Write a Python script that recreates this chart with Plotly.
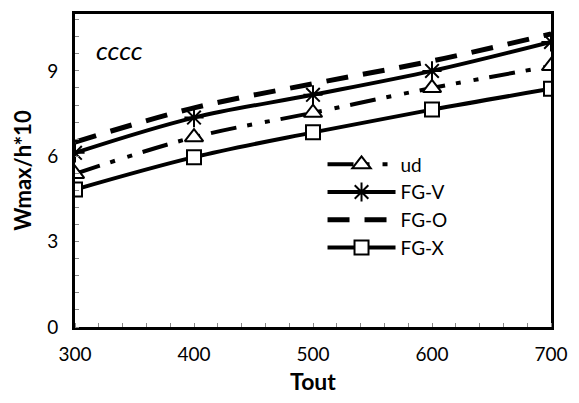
import plotly.graph_objects as go

x_vals = [300, 400, 500, 600, 700]
ud = [5.38, 6.67, 7.53, 8.40, 9.17]
fg_v = [6.12, 7.36, 8.16, 9.00, 10.02]
fg_o = [6.50, 7.70, 8.55, 9.35, 10.30]
fg_x = [4.83, 5.97, 6.84, 7.64, 8.37]

FONT = "Lato"
fig = go.Figure()

fig.add_trace(go.Scatter(
    x=x_vals, y=ud, name="ud", mode="lines+markers",
    line=dict(color="black", width=4, shape="spline", dash="26px,11px,5px,13px,5px,11px"),
    marker=dict(symbol="triangle-up", size=16, color="white", line=dict(color="black", width=2))))
fig.add_trace(go.Scatter(
    x=x_vals, y=fg_v, name="FG-V", mode="lines+markers",
    line=dict(color="black", width=4, shape="spline"),
    marker=dict(symbol="asterisk-open", size=16, color="black", line=dict(color="black", width=2))))
fig.add_trace(go.Scatter(
    x=x_vals, y=fg_o, name="FG-O", mode="lines",
    line=dict(color="black", width=5, shape="spline", dash="22px,15px")))
fig.add_trace(go.Scatter(
    x=x_vals, y=fg_x, name="FG-X", mode="lines+markers",
    line=dict(color="black", width=4, shape="spline"),
    marker=dict(symbol="square", size=14, color="white", line=dict(color="black", width=2))))

fig.add_annotation(text="<i>cccc</i>", x=0.04, y=0.886, xref="paper", yref="paper",
                   xanchor="left", yanchor="middle", showarrow=False,
                   font=dict(family=FONT, size=26, color="black"))

fig.update_layout(
    width=579, height=403,
    margin=dict(l=75, r=23, t=11, b=76),
    paper_bgcolor="white", plot_bgcolor="white",
    font=dict(family=FONT, size=19, color="black"),
    showlegend=True,
    legend=dict(x=0.52, y=0.58, xanchor="left", yanchor="top",
                bgcolor="rgba(0,0,0,0)", itemwidth=68,
                font=dict(family=FONT, size=19), tracegroupgap=0),
    xaxis=dict(range=[300, 700], tickvals=[300, 400, 500, 600, 700],
               showgrid=False, zeroline=False,
               showline=True, linecolor="black", linewidth=3, mirror=True,
               ticks="", ticklabelstandoff=8,
               tickfont=dict(family=FONT, size=19),
               minor=dict(dtick=20, ticks="inside", ticklen=4, tickcolor="#888", tickwidth=1),
               title=dict(text="<b>Tout</b>", font=dict(family=FONT, size=23), standoff=11)),
    yaxis=dict(range=[0, 11], tickvals=[0, 3, 6, 9],
               showgrid=False, zeroline=False,
               showline=True, linecolor="black", linewidth=3, mirror=True,
               ticks="", ticklabelstandoff=10,
               tickfont=dict(family=FONT, size=19),
               minor=dict(dtick=0.6, ticks="inside", ticklen=4, tickcolor="#888", tickwidth=1),
               title=dict(text="<b>Wmax/h*10</b>", font=dict(family=FONT, size=22), standoff=10)),
)

fig.write_html("out.html")
